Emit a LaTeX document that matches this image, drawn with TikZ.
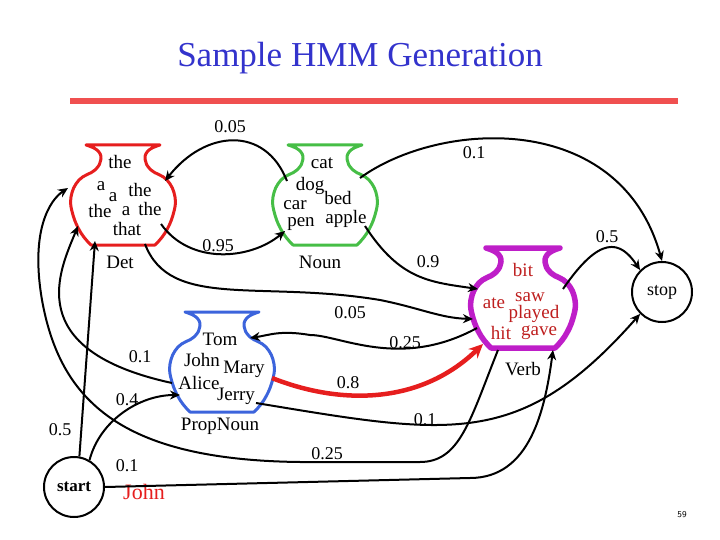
\documentclass[tikz,border=0pt]{standalone}
\usepackage{fontspec}
\setmainfont{Liberation Serif}
\usetikzlibrary{arrows.meta,calc}
\definecolor{titleblue}{RGB}{51,51,204}
\definecolor{rulered}{RGB}{240,80,80}
\definecolor{detred}{RGB}{230,30,30}
\definecolor{noungreen}{RGB}{70,190,70}
\definecolor{propblue}{RGB}{60,100,220}
\definecolor{verbmag}{RGB}{190,30,200}
\definecolor{verbword}{RGB}{190,30,30}
\tikzset{
  vase/.pic={
    \draw[line width=#1, line join=round] (-37,0) -- (37,0) -- plot[smooth,tension=0.7] coordinates{(37,0)(26,5)(22,14)(28,25)(44,35)(52,52)(50,70)(42,88)(32,100)} -- (-32,100) -- plot[smooth,tension=0.7] coordinates{(-32,100)(-42,88)(-50,70)(-52,52)(-44,35)(-28,25)(-22,14)(-26,5)(-37,0)} -- cycle;
  },
  w/.style={font=\fontsize{19}{19}\selectfont, inner sep=0pt},
  lab/.style={font=\fontsize{18}{18}\selectfont, inner sep=1pt},
  edge/.style={line width=2pt, -{Stealth[length=10pt,width=9pt]}},
  st/.style={draw, circle, line width=2pt, minimum size=60pt}
}
\begin{document}
\begin{tikzpicture}[x=1pt,y=-1pt]
\useasboundingbox (0,0) rectangle (720,540);
\node[titleblue, font=\fontsize{35}{35}\selectfont] (title) at (360,58) {Sample HMM Generation};
\draw[rulered, line width=6pt] (70,101) -- (678,101);
% vases
\pic[detred] at (123,145) {vase=3pt};
\pic[noungreen] at (325,145) {vase=3pt};
\pic[propblue] at (222,312) {vase=3pt};
\pic[verbmag] at (523,248) {vase=5.5pt};
\node (det) at (123,196) {};
\node (noun) at (325,196) {};
\node (prop) at (222,363) {};
\node (verb) at (523,299) {};
\node[st] (start) at (74,487) {\textbf{\fontsize{17}{17}\selectfont start}};
\node[st] (stop) at (662,292) {\fontsize{18}{18}\selectfont stop};
% words
\node[w] (d1) at (120,162) {the};
\node[w] (d2) at (101,186) {a};
\node[w] (d3) at (113,197) {a};
\node[w] (d4) at (140,190) {the};
\node[w] (d5) at (100,211) {the};
\node[w] (d6) at (126,211) {a};
\node[w] (d7) at (150,209) {the};
\node[w] (d8) at (127,229) {that};
\node[w] (n1) at (322,163) {cat};
\node[w] (n2) at (310,186) {dog};
\node[w] (n3) at (338,198) {bed};
\node[w] (n4) at (295,205) {car};
\node[w] (n5) at (301,224) {pen};
\node[w] (n6) at (346,219) {apple};
\node[w] (p1) at (220,339) {Tom};
\node[w] (p2) at (202,360) {John};
\node[w] (p3) at (244,369) {Mary};
\node[w] (p4) at (199,383) {Alice};
\node[w] (p5) at (236,396) {Jerry};
\node[w,verbword] (v1) at (523,270) {bit};
\node[w,verbword] (v2) at (530,297) {saw};
\node[w,verbword] (v3) at (494,303) {ate};
\node[w,verbword] (v4) at (534,314) {played};
\node[w,verbword] (v5) at (501,333) {hit};
\node[w,verbword] (v6) at (539,333) {gave};
\node[w] (ldet) at (120,262) {Det};
\node[w] (lnoun) at (320,262) {Noun};
\node[w] (lprop) at (220,426) {PropNoun};
\node[w] (lverb) at (523,369) {Verb};
\node[w, detred, font=\fontsize{22}{22}\selectfont] (john) at (144,492) {John};
% edges
\draw[edge] ($(noun)+(-38,-15)$) .. controls (265,125) and (205,130) .. ($(det)+(42,-15)$);
\draw[edge] ($(det)+(38,28)$) .. controls (190,265) and (250,260) .. ($(noun)+(-40,35)$);
\draw[edge] ($(noun)+(35,-18)$) .. controls (440,120) and (620,110) .. (stop.north);
\draw[edge] ($(noun)+(40,30)$) .. controls (400,280) and (430,282) .. ($(verb)+(-45,-10)$);
\draw[edge] ($(det)+(22,48)$) .. controls (170,310) and (260,280) .. (380,300) .. controls (420,308) and (440,318) .. ($(verb)+(-50,20)$);
\draw[edge] ($(verb)+(-46,29)$) .. controls (400,370) and (340,335) .. (310,335) .. controls (280,330) and (270,335) .. ($(prop)+(28,-25)$);
\draw[line width=4.5pt, detred, -{Stealth[length=14pt,width=13pt]}] ($(prop)+(50,15)$) .. controls (340,405) and (420,405) .. ($(verb)+(-40,45)$);
\draw[edge] ($(prop)+(34,40)$) .. controls (450,435) and (520,450) .. (stop.south west);
\draw[edge] ($(prop)+(-50,20)$) .. controls (20,350) and (60,270) .. ($(det)+(-45,30)$);
\draw[edge] (start.60) .. controls (100,420) and (140,395) .. ($(prop)+(-42,32)$);
\draw[edge] (start.80) -- ($(det)+(-28,45)$);
\draw[edge] ($(verb)+(-25,51)$) .. controls (470,420) and (460,462) .. (420,462) -- (300,462) .. controls (120,460) and (60,400) .. (42,300) .. controls (30,230) and (50,200) .. ($(det)+(-55,-8)$);
\draw[edge] (start.east) -- (470,478) .. controls (530,478) and (545,410) .. ($(verb)+(30,51)$);
\draw[edge] ($(verb)+(40,-10)$) .. controls (600,235) and (620,240) .. (stop.north west);
% labels
\node[lab] (e1) at (230,127) {0.05};
\node[lab] (e2) at (218,246) {0.95};
\node[lab] (e3) at (474,153) {0.1};
\node[lab] (e4) at (428,262) {0.9};
\node[lab] (e5) at (350,313) {0.05};
\node[lab] (e6) at (405,343) {0.25};
\node[lab] (e7) at (348,383) {0.8};
\node[lab] (e8) at (425,420) {0.1};
\node[lab] (e9) at (140,357) {0.1};
\node[lab] (e10) at (127,400) {0.4};
\node[lab] (e11) at (60,430) {0.5};
\node[lab] (e12) at (327,454) {0.25};
\node[lab] (e13) at (127,466) {0.1};
\node[lab] (e14) at (607,237) {0.5};
\node[font=\sffamily\small] (pg) at (682,515) {59};
\end{tikzpicture}
\end{document}
